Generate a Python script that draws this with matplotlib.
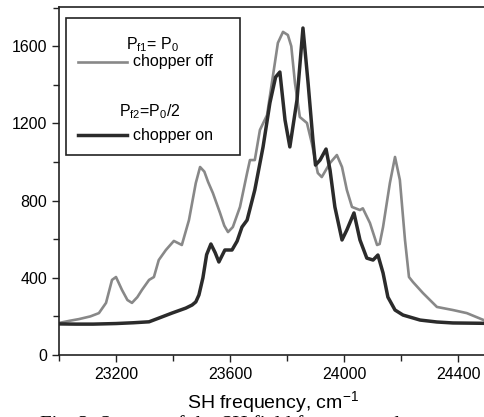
import numpy as np
import matplotlib
matplotlib.use('Agg')
import matplotlib.pyplot as plt
from matplotlib.patches import Rectangle
from matplotlib.lines import Line2D

plt.rcParams['font.family'] = ['Liberation Sans', 'DejaVu Sans']
plt.rcParams['mathtext.default'] = 'regular'

#Chopper off (P_f1 = P_0)
freq_off = [23000, 23040, 23070, 23110, 23140, 23165, 23186, 23200, 23221, 23240,
            23256, 23275, 23291, 23316, 23333, 23350, 23375, 23403, 23431, 23456,
            23480, 23495, 23510, 23523, 23540, 23565, 23580, 23593, 23610, 23635,
            23660, 23670, 23687, 23705, 23730, 23750, 23768, 23786, 23803, 23815,
            23828, 23845, 23870, 23887, 23908, 23922, 23951, 23975, 23993, 24010,
            24028, 24056, 24066, 24091, 24116, 24125, 24137, 24161, 24179, 24196,
            24214, 24228, 24242, 24277, 24326, 24382, 24431, 24500]
sig_off = [166, 178, 186, 200, 217, 270, 389, 404, 337, 285,
           270, 300, 337, 389, 404, 492, 544, 591, 570, 699,
           891, 974, 950, 897, 839, 736, 670, 637, 663, 767,
           943, 1010, 1010, 1166, 1243, 1440, 1617, 1674, 1658, 1600,
           1409, 1233, 1202, 1098, 943, 922, 995, 1036, 974, 855,
           767, 751, 760, 684, 570, 575, 663, 891, 1026, 907,
           596, 404, 378, 321, 249, 233, 217, 175]

#Chopper on (P_f2 = P_0/2)
freq_on = [23000, 23060, 23120, 23200, 23260, 23316, 23350, 23396, 23445, 23467,
           23480, 23491, 23505, 23518, 23533, 23548, 23561, 23582, 23607, 23625,
           23642, 23660, 23687, 23716, 23740, 23760, 23775, 23793, 23810, 23835,
           23856, 23874, 23891, 23900, 23916, 23937, 23951, 23968, 23993, 24010,
           24035, 24056, 24080, 24102, 24119, 24137, 24154, 24179, 24207, 24267,
           24326, 24382, 24500]
sig_on = [161, 160, 160, 163, 167, 172, 191, 217, 243, 259,
          275, 311, 400, 520, 575, 530, 482, 544, 544, 590,
          663, 699, 855, 1078, 1306, 1440, 1466, 1218, 1078, 1321,
          1694, 1409, 1114, 984, 1010, 1067, 958, 767, 596, 648,
          736, 596, 502, 492, 518, 425, 300, 233, 207, 181,
          171, 166, 164]

x_ticks = [23200, 23600, 24000, 24400]
y_ticks = [0, 400, 800, 1200, 1600]

fig = plt.figure(figsize=(4.84, 4.17), dpi=100)
ax = fig.add_axes([59/484, 62/417, 427.5/484, 348/417])

ax.plot(freq_off, sig_off, color='#888888', lw=1.9, solid_joinstyle='round')
ax.plot(freq_on, sig_on, color='#2b2b2b', lw=2.5, solid_joinstyle='round')

ax.set_xlim(23000, 24500)
ax.set_ylim(0, 1803)
ax.set_xticks(x_ticks)
ax.set_yticks(y_ticks)
ax.set_xticks(np.arange(23000, 24501, 200), minor=True)
ax.set_yticks(np.arange(0, 1801, 200), minor=True)
ax.tick_params(which='both', direction='out', labelsize=11.5, color='#222222', width=1.0)
ax.tick_params(which='major', length=5)
ax.tick_params(which='minor', length=4)
ax.spines['right'].set_visible(False)
for s in ['left', 'bottom', 'top']:
	ax.spines[s].set_linewidth(1.2)
	ax.spines[s].set_color('#222222')

ax.set_xlabel('SH frequency, cm$^{-1}$', fontsize=14, labelpad=5)

#Hand made legend box
ax.add_patch(Rectangle((0.016, 0.575), 0.407, 0.393, transform=ax.transAxes,
                       fill=False, ec='#222222', lw=1.2))
ax.text(0.218, 0.891, 'P$_{f1}$= P$_0$', transform=ax.transAxes, ha='center', va='center', fontsize=11.5)
ax.add_line(Line2D([0.044, 0.159], [0.842, 0.842], transform=ax.transAxes, color='#888888', lw=1.9))
ax.text(0.173, 0.842, 'chopper off', transform=ax.transAxes, ha='left', va='center', fontsize=11.5)
ax.text(0.213, 0.698, 'P$_{f2}$=P$_0$/2', transform=ax.transAxes, ha='center', va='center', fontsize=11.5)
ax.add_line(Line2D([0.044, 0.159], [0.632, 0.632], transform=ax.transAxes, color='#2b2b2b', lw=2.5))
ax.text(0.173, 0.632, 'chopper on', transform=ax.transAxes, ha='left', va='center', fontsize=11.5)

#Caption, cut off at the bottom edge like the scan
fig.text(40/484, 2/417, 'Fig. 3. Spectra of the SH field for two modes', ha='left', va='top',
         fontsize=15, family='Liberation Serif')

fig.savefig('out.png', dpi=100)
